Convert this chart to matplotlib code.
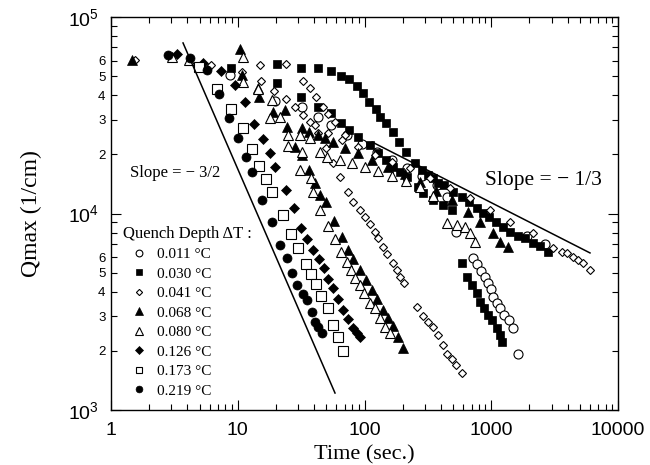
import numpy as np
import matplotlib
matplotlib.use('Agg')
import matplotlib.pyplot as plt
from matplotlib.ticker import FixedLocator, FixedFormatter

plt.rcParams['font.family'] = ['Liberation Serif', 'DejaVu Serif']
plt.rcParams['mathtext.fontset'] = 'custom'
plt.rcParams['mathtext.rm'] = 'Liberation Sans'

# ---- data: time (s) and Qmax (1/cm) for each quench depth ----
t_011 = [8.69, 19.7, 32.1, 43.0, 54.5, 72.8, 95.5, 126, 165, 216, 284, 373, 448, 527,
         718, 772, 830, 893, 944, 995, 1030, 1110, 1173, 1260, 1380, 1490, 1630, 1920, 2660]
q_011 = [50700, 37400, 34800, 31000, 28200, 25100, 22600, 20500, 18700, 17100, 15500, 14000, 12100, 8050,
         5940, 5540, 5100, 4750, 4430, 4130, 3760, 3510, 3310, 3040, 2870, 2610, 1930, 7680, 7000]

t_030 = [8.85, 20.4, 31.6, 43.0, 54.5, 65.3, 75.5, 87.3, 97.3, 109, 123, 133, 148, 168, 187, 213,
         250, 284, 317, 347, 380, 424, 499, 588, 668, 772, 861, 960, 1090, 1240, 1410, 1630,
         1850, 2140, 2430, 2800,
         20.4, 31.6, 43.0, 54.5, 65.3, 75.5, 88.9, 111, 128, 148, 168, 191, 216, 264, 290, 347,
         416, 490,
         588, 644, 705, 772, 815, 877, 944, 1010, 1110, 1173, 1220]
q_030 = [55000, 57700, 55000, 55000, 53100, 50100, 48300, 44500, 41000, 36900, 34000, 31000, 28900,
         26000, 23100, 20500, 18100, 16600, 15700, 15200, 14300, 14000, 12900, 12100, 11400, 10700,
         10100, 9600, 9050, 8530, 8050, 7680, 7500, 7080, 6840, 6370,
         46100, 39100, 34800, 32500, 28900, 26600, 24500, 22300, 20300, 18700, 17300, 16300, 15300,
         13600, 12700, 11700, 11000, 10400,
         5600, 4750, 4330, 3940, 3550, 3310, 3040, 2870, 2610, 2410, 2220]

t_041 = [1.55, 6.15, 10.8, 15.3, 19.3, 24.0, 28.3, 32.7, 37.2, 43.0, 49.7, 56.4, 64.1, 74.1, 81.1,
         92.2, 101, 111, 121, 128, 140, 151, 168, 181, 191, 205,
         15.0, 24.0, 32.7, 37.2, 41.4, 47.1, 51.5, 58.5, 70.2,
         40.7, 51.5, 66.5, 88.9, 121, 165, 229, 329, 473, 680, 978, 1406, 2140, 3070, 3610, 3960,
         4420, 4840, 5300, 6020,
         260, 290, 317, 347, 380, 416, 448, 490, 527, 588]
q_041 = [60400, 57000, 52500, 47200, 42000, 38300, 34800, 31700, 29200, 25700, 21500, 18100, 15300,
         12900, 11400, 10400, 9600, 8840, 8050, 7500, 6760, 6220, 5600, 5160, 4750, 4430,
         57000, 57700, 47200, 43500, 39100, 34800, 32100, 29200, 25100,
         28200, 25700, 23700, 21800, 19900, 18300, 17100, 15200, 13500, 12000, 10400, 9050, 7960,
         6670, 6370, 6300, 6010, 5800, 5600, 5160,
         3340, 3010, 2800, 2650, 2410, 2140, 1930, 1820, 1690, 1540]

t_068 = [1.46, 10.4, 10.8, 14.4, 14.7, 19.0, 23.6, 24.5, 32.1, 36.5, 43.0, 48.8, 56.4,
         70.2, 88.9, 115, 153, 209, 274, 367, 490, 656, 815, 1030, 1173, 1360,
         28.3, 32.1, 36.5, 40.7, 44.6, 49.7, 57.5, 66.5, 74.1, 81.1, 92.2, 103, 115, 126, 140,
         153, 168, 184, 201]
q_068 = [60400, 68700, 50700, 43500, 39100, 32900, 33600, 27500, 27200, 26000, 25100, 24200, 23100,
         21500, 20300, 18700, 17300, 15900, 14500, 13000, 11700, 10200, 9050, 7960, 7160, 6760,
         21800, 19900, 16600, 14300, 12400, 11400, 9160, 7590, 6520, 5870, 5160, 4590, 4080, 3670,
         3230, 2940, 2670, 2350, 2070]

t_080 = [3.03, 4.12, 11.0, 11.0, 14.4, 18.6, 18.0, 21.5, 24.9, 24.9, 31.0, 32.1, 37.2, 44.6, 50.6,
         64.1, 79.6, 101, 128, 165, 213, 274, 347, 448, 537, 621, 680, 745,
         31.0, 37.8, 39.2, 44.6, 51.5, 58.5, 65.3, 72.8, 78.3, 84.2, 92.2, 99.1, 111, 121, 133,
         145, 159]
q_080 = [62500, 60400, 62500, 46700, 43000, 37800, 30600, 31000, 25100, 22100, 25100, 20500, 24200,
         20500, 19400, 18700, 18100, 17300, 16400, 15500, 14600, 13600, 12300, 8950, 8740, 8530,
         7960, 7160,
         16600, 15200, 12900, 10400, 8640, 7420, 6370, 5660, 5160, 4700, 4330, 3940, 3510, 3310,
         2940, 2650, 2470]

t_126 = [3.32, 5.32, 7.38, 9.51, 11.4, 13.4, 15.8, 17.9, 19.7, 24.0, 27.8, 31.6, 35.2, 39.2, 43.8,
         47.9, 51.5, 56.4, 61.8, 67.7, 74.1, 81.1, 87.3, 92.2]
q_126 = [64800, 58300, 53100, 45100, 36900, 28500, 23900, 20300, 17200, 13200, 10700, 8440, 7420,
         6520, 5870, 5280, 4640, 4180, 3670, 3230, 2900, 2610, 2460, 2350]

t_173 = [4.95, 6.86, 8.85, 11.0, 12.9, 14.7, 16.7, 18.6, 22.7, 26.3, 29.9, 34.5, 37.8, 41.4, 45.4,
         51.5, 56.4, 61.8, 67.7]
q_173 = [55700, 43000, 34000, 27200, 21300, 17400, 15000, 12900, 9830, 7870, 6680, 5530, 4920, 4380,
         3800, 3300, 2710, 2350, 2000]

t_219 = [2.82, 4.20, 5.72, 7.11, 8.53, 10.0, 11.6, 12.9, 15.5, 18.6, 21.5, 24.5, 26.8, 29.3, 32.7,
         35.2, 38.5, 40.7, 43.0, 46.2]
q_219 = [64100, 61800, 53700, 40600, 30600, 24200, 19400, 16300, 11700, 9060, 6910, 5940, 4980,
         4330, 3890, 3630, 3150, 2800, 2650, 2460]

labels = ['0.011', '0.030', '0.041', '0.068', '0.080', '0.126', '0.173', '0.219']

# power-law guide lines
slope32_t = [3.7, 58.5]
slope32_q = [73800, 1220]
slope13_t = [115, 6010]
slope13_q = [23100, 6300]

# ---- plot ----
fig = plt.figure(figsize=(6.5, 4.65), dpi=100)
ax = fig.add_axes([0.1708, 0.1183, 0.78, 0.8451])

styles = [
    dict(marker='o', ms=6.5, mfc='white', mec='black', mew=0.8),
    dict(marker='s', ms=6.0, mfc='black', mec='black', mew=0.5),
    dict(marker='D', ms=4.2, mfc='white', mec='black', mew=0.8),
    dict(marker='^', ms=7.0, mfc='black', mec='black', mew=0.5),
    dict(marker='^', ms=7.0, mfc='white', mec='black', mew=0.8),
    dict(marker='D', ms=5.0, mfc='black', mec='black', mew=0.5),
    dict(marker='s', ms=6.5, mfc='white', mec='black', mew=0.8),
    dict(marker='o', ms=6.5, mfc='black', mec='black', mew=0.5),
]
all_t = [t_011, t_030, t_041, t_068, t_080, t_126, t_173, t_219]
all_q = [q_011, q_030, q_041, q_068, q_080, q_126, q_173, q_219]

for t, q, lab, st in zip(all_t, all_q, labels, styles):
    ax.plot(t, q, ls='none', label=lab + ' \u00b0C', **st)

ax.plot(slope32_t, slope32_q, color='black', lw=1.1)
ax.plot(slope13_t, slope13_q, color='black', lw=1.1)

ax.text(1.41, 16100, 'Slope = \u2212 3/2', fontsize=12, ha='left', va='center')
ax.text(893, 14800, 'Slope = \u2212 1/3', fontsize=15.5, ha='left', va='center')

ax.set_xscale('log')
ax.set_yscale('log')
ax.set_xlim(1, 10000)
ax.set_ylim(1000, 100000)

# ticks
ax.xaxis.set_major_locator(FixedLocator([1, 10, 100, 1000, 10000]))
ax.xaxis.set_major_formatter(FixedFormatter(['1', '10', '100', '1000', '10000']))
xminor = [m * 10 ** d for d in range(4) for m in range(2, 10)]
ax.xaxis.set_minor_locator(FixedLocator(xminor))
ax.xaxis.set_minor_formatter(FixedFormatter([''] * len(xminor)))

ax.yaxis.set_major_locator(FixedLocator([1e3, 1e4, 1e5]))
ax.yaxis.set_major_formatter(FixedFormatter([r'$\mathregular{10^{3}}$', r'$\mathregular{10^{4}}$',
                                             r'$\mathregular{10^{5}}$']))
yminor = [m * 10 ** d for d in (3, 4) for m in range(2, 10)]
ylab = ['2', '3', '4', '5', '6', '', '', ''] * 2
ax.yaxis.set_minor_locator(FixedLocator(yminor))
ax.yaxis.set_minor_formatter(FixedFormatter(ylab))

ax.tick_params(which='both', direction='in', top=True, right=True, width=0.8)
ax.tick_params(which='major', length=7)
ax.tick_params(which='minor', length=4)
ax.tick_params(axis='x', which='major', labelsize=14, pad=9)
ax.tick_params(axis='y', which='major', labelsize=14, pad=9)
ax.tick_params(axis='y', which='minor', labelsize=9.5, pad=4)
for lbl in ax.get_xticklabels() + ax.get_yticklabels(which='both'):
    lbl.set_family(['Liberation Sans', 'DejaVu Sans'])

for sp in ax.spines.values():
    sp.set_linewidth(1.0)

ax.set_xlabel('Time (sec.)', fontsize=16, labelpad=4)
ax.set_ylabel('Qmax (1/cm)', fontsize=17, labelpad=18)

leg = ax.legend(loc='lower left', bbox_to_anchor=(0.0, 0.0), frameon=False,
                title='Quench Depth \u0394T :', fontsize=11, title_fontsize=12,
                labelspacing=0.38, handletextpad=0.2, handlelength=2.0,
                borderpad=0.3, markerscale=0.75)
leg._legend_box.align = 'left'

fig.savefig('out.png', dpi=100)
